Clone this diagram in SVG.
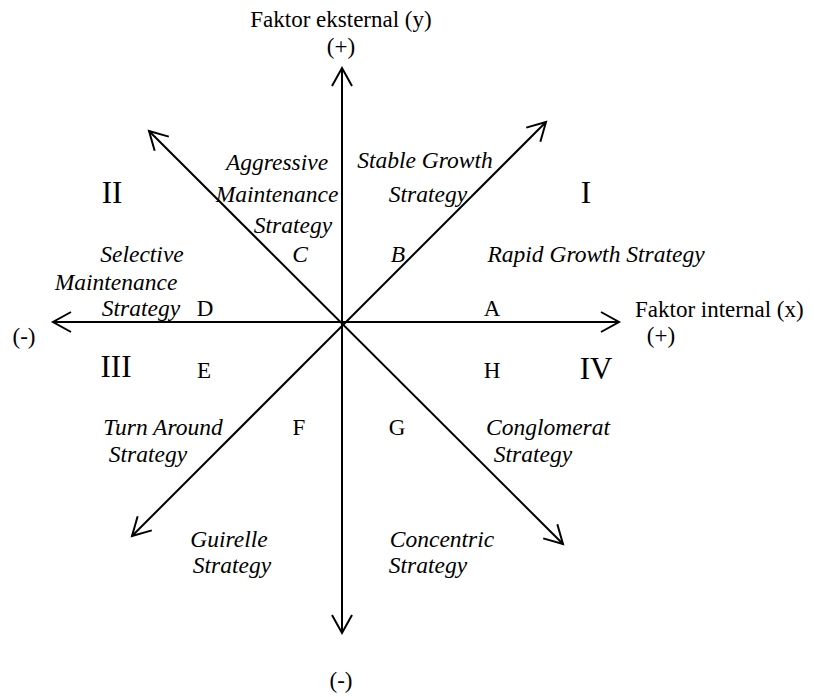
<svg xmlns="http://www.w3.org/2000/svg" width="814" height="697" viewBox="0 0 814 697">
<style>
text{font-family:"Liberation Serif","Times New Roman",serif;fill:#000;font-size:23px}
.i{font-style:italic;font-size:23.5px}
.q{font-size:31px}
.ax{stroke:#000;stroke-width:2;fill:none}
</style>
<defs>
<marker id="ah" markerUnits="userSpaceOnUse" markerWidth="40" markerHeight="40" refX="0" refY="0" viewBox="-20 -20 40 40" orient="auto-start-reverse" overflow="visible">
<path d="M-18,-10 L0,0 L-18,10" fill="none" stroke="#000" stroke-width="2"/>
</marker>
</defs>
<g id="connectors">
<line class="ax" x1="342" y1="633" x2="342" y2="68" marker-start="url(#ah)" marker-end="url(#ah)"/>
<line class="ax" x1="53" y1="322" x2="619" y2="322" marker-start="url(#ah)" marker-end="url(#ah)"/>
<line class="ax" x1="132" y1="536" x2="546" y2="122" marker-start="url(#ah)" marker-end="url(#ah)"/>
<line class="ax" x1="149" y1="131" x2="563" y2="544" marker-start="url(#ah)" marker-end="url(#ah)"/>
</g>
<g id="axis-y-top"><text x="341" y="27" text-anchor="middle">Faktor eksternal (y)</text><text x="341" y="54" text-anchor="middle">(+)</text></g>
<g id="axis-y-bottom"><text x="341" y="688" text-anchor="middle">(-)</text></g>
<g id="axis-x-right"><text x="635" y="317">Faktor internal (x)</text><text x="661" y="343" text-anchor="middle">(+)</text></g>
<g id="axis-x-left"><text x="24" y="344" text-anchor="middle">(-)</text></g>
<g id="quadrant-I"><text class="q" x="586" y="203" text-anchor="middle">I</text></g>
<g id="quadrant-II"><text class="q" x="112" y="203" text-anchor="middle">II</text></g>
<g id="quadrant-III"><text class="q" x="116" y="377" text-anchor="middle">III</text></g>
<g id="quadrant-IV"><text class="q" x="596" y="379" text-anchor="middle">IV</text></g>
<g id="node-A"><text x="492" y="316" text-anchor="middle">A</text><text class="i" x="596" y="262" text-anchor="middle">Rapid Growth Strategy</text></g>
<g id="node-B"><text class="i" x="398" y="262" text-anchor="middle">B</text><text class="i" x="425" y="168" text-anchor="middle">Stable Growth</text><text class="i" x="428" y="202" text-anchor="middle">Strategy</text></g>
<g id="node-C"><text class="i" x="300" y="262" text-anchor="middle">C</text><text class="i" x="277" y="170" text-anchor="middle">Aggressive</text><text class="i" x="277" y="202" text-anchor="middle">Maintenance</text><text class="i" x="293" y="233" text-anchor="middle">Strategy</text></g>
<g id="node-D"><text x="205" y="316" text-anchor="middle">D</text><text class="i" x="142" y="262" text-anchor="middle">Selective</text><text class="i" x="116" y="290" text-anchor="middle">Maintenance</text><text class="i" x="141" y="316" text-anchor="middle">Strategy</text></g>
<g id="node-E"><text x="204" y="378" text-anchor="middle">E</text></g>
<g id="node-F"><text x="299" y="435" text-anchor="middle">F</text><text class="i" x="163" y="435" text-anchor="middle">Turn Around</text><text class="i" x="148" y="462" text-anchor="middle">Strategy</text></g>
<g id="node-G"><text x="397" y="435" text-anchor="middle">G</text><text class="i" x="229" y="547" text-anchor="middle">Guirelle</text><text class="i" x="232" y="573" text-anchor="middle">Strategy</text></g>
<g id="node-H"><text x="492" y="378" text-anchor="middle">H</text><text class="i" x="548" y="435" text-anchor="middle">Conglomerat</text><text class="i" x="533" y="462" text-anchor="middle">Strategy</text><text class="i" x="442" y="547" text-anchor="middle">Concentric</text><text class="i" x="428" y="573" text-anchor="middle">Strategy</text></g>
</svg>
